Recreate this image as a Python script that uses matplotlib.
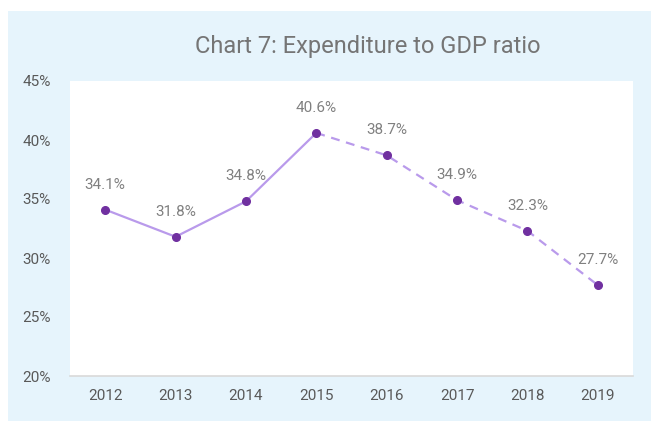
import numpy as np
import matplotlib.pyplot as plt
from matplotlib.patches import Rectangle

plt.rcParams['font.family'] = ['Roboto', 'DejaVu Sans']

years = ['2012', '2013', '2014', '2015', '2016', '2017', '2018', '2019']
ratio = [34.1, 31.8, 34.8, 40.6, 38.7, 34.9, 32.3, 27.7]
split = 3  # 2015: solid before, dashed after

line_col = '#B99AEB'
dot_col = '#7030A0'
label_col = '#808080'

fig = plt.figure(figsize=(6.51, 4.21), dpi=100)
fig.patch.set_facecolor('white')
fig.patches.append(Rectangle((8 / 651, 0), 1 - 8 / 651, 410 / 421, transform=fig.transFigure,
                             facecolor='#E6F4FC', edgecolor='none', zorder=-10))

ax = fig.add_axes([70 / 651, 45 / 421, 563 / 651, 295 / 421])
ax.set_facecolor('white')

x = np.arange(len(years))
ax.plot(x[:split + 1], ratio[:split + 1], color=line_col, lw=1.6, solid_capstyle='round')
ax.plot(x[split:], ratio[split:], color=line_col, lw=1.6, linestyle=(0, (4, 3)))
ax.plot(x, ratio, 'o', color=dot_col, markersize=5.5, zorder=3)

for xi, v in zip(x, ratio):
    ax.annotate(f'{v:.1f}%', (xi, v), xytext=(0, 13), textcoords='offset points',
                ha='center', va='bottom', fontsize=11, color=label_col)

ax.set_xlim(-0.5, len(years) - 0.5)
ax.set_ylim(20, 45)
ax.set_xticks(x)
ax.set_xticklabels(years)
ax.set_yticks(np.arange(20, 46, 5))
ax.set_yticklabels([f'{t}%' for t in range(20, 46, 5)])
ax.tick_params(length=0, colors='#595959', labelsize=11)
ax.tick_params(axis='y', pad=14)
ax.tick_params(axis='x', pad=9)

for s in ['top', 'right', 'left']:
    ax.spines[s].set_visible(False)
ax.spines['bottom'].set_color('#D9D9D9')
ax.spines['bottom'].set_linewidth(1.2)

fig.text(368 / 651, 1 - 47 / 421, 'Chart 7: Expenditure to GDP ratio', ha='center', va='center',
         fontsize=17, color='#757575')

fig.savefig('out.png', dpi=100)
